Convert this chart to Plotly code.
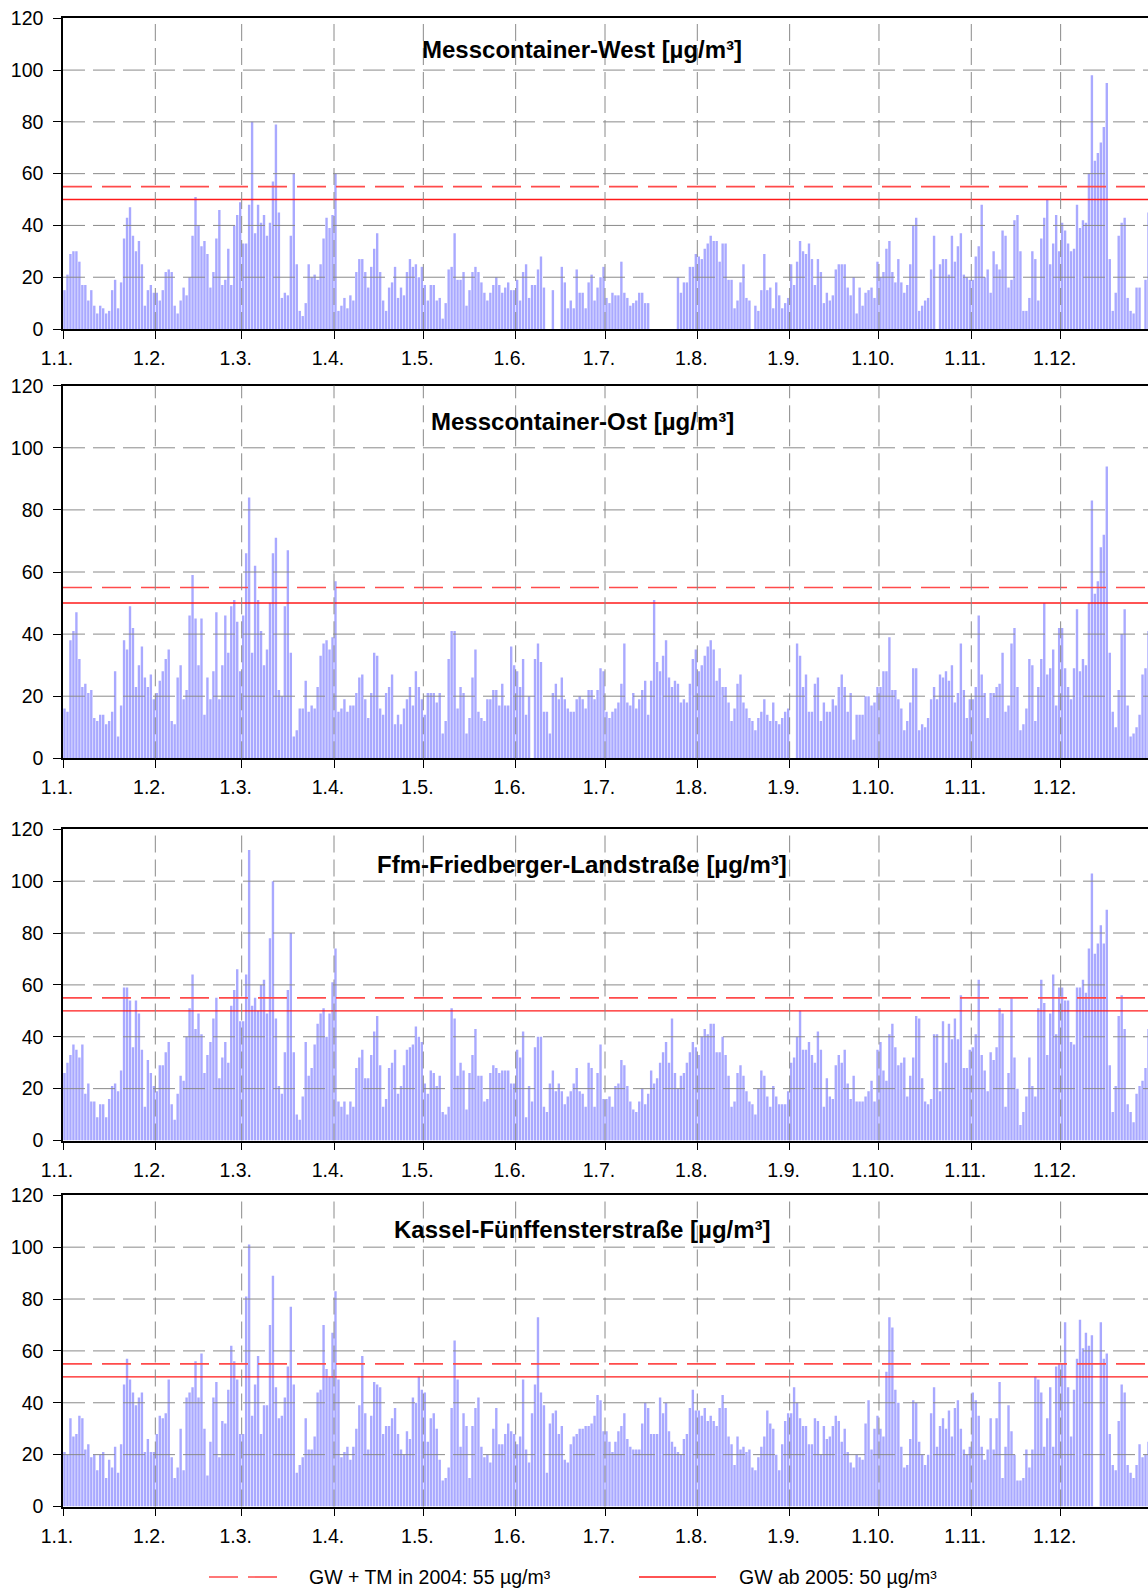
import pandas as pd
import plotly.graph_objects as go

N = None  # day without a valid daily mean

# Daily PM10 means 2004, one row per month (Jan .. Dec)
WEST = [
    [15, 21, 29, 30, 30, 26, 17, 17, 11, 15, 9, 6, 9, 8, 6, 7, 15, 19, 8, 18, 35, 43, 47, 36, 30, 34, 25, 9, 15, 17, 14],
    [14, 11, 15, 22, 23, 22, 9, 6, 11, 16, 13, 20, 36, 51, 40, 32, 34, 29, 16, 22, 35, 46, 17, 19, 31, 17, 40, 44, 49],
    [33, 33, 48, 80, 37, 48, 41, 44, 36, 41, 57, 79, 45, 12, 14, 13, 36, 60, 25, 7, 5, 10, 25, 20, 21, 19, 25, 35, 43, 39, 44],
    [60, 7, 9, 12, 8, 13, 11, 22, 27, 27, 22, 16, 24, 31, 37, 22, 11, 7, 16, 18, 24, 12, 16, 13, 22, 27, 24, 25, 20, 24],
    [17, 11, 17, 17, 11, 12, 4, 10, 23, 24, 37, 19, 19, 22, 9, 15, 22, 24, 22, 18, 14, 11, 14, 17, 20, 17, 14, 16, 18, 15, 15],
    [19, 11, 22, 25, 12, 17, 17, 23, 28, 16, N, N, 15, N, N, 24, 18, 8, 11, 8, 23, 14, 14, 8, 18, 21, 11, 16, 20, 24],
    [12, 10, 14, 13, 13, 26, 14, 12, 9, 10, 11, 14, 14, 10, 10, N, N, N, N, N, N, N, N, N, 20, 14, 18, 18, 24, 24, 29],
    [28, 27, 31, 33, 36, 34, 34, 26, 33, 33, 19, 19, 8, 11, 18, 25, 12, 11, N, 9, 7, 15, 29, 15, 16, 8, 18, 13, 8, 10, 12],
    [25, 17, 26, 34, 30, 29, 33, 27, 17, 27, 22, 10, 14, 11, 13, 23, 25, 25, 25, 16, 13, 20, 6, 16, 9, 14, 15, 16, 12, 26],
    [20, 22, 31, 34, 22, 18, 27, 18, 14, 17, 25, 40, 43, 7, 9, 11, 12, 23, 36, N, 25, 27, 27, 21, 36, 26, 32, 37, 21, 20, 19],
    [19, 28, 32, 48, 20, 23, 14, 30, 25, 23, 38, 36, 16, 19, 42, 44, 30, 7, 7, 12, 30, 27, 11, 35, 43, 50, 25, 33, 44, 30],
    [41, 38, 33, 30, 31, 48, 39, 42, 41, 60, 98, 65, 68, 72, 78, 95, 27, 7, 14, 36, 41, 43, 12, 7, 6, 16, 16, N, 19, 45, 45],
]

OST = [
    [16, 15, 38, 41, 47, 32, 23, 24, 21, 22, 13, 12, 14, 14, 11, 12, 15, 28, 7, 17, 38, 35, 49, 42, 23, 30, 36, 26, 23, 27, 19],
    [21, 25, 28, 32, 35, 12, 11, 26, 30, 19, 22, 46, 59, 45, 30, 45, 14, 26, 19, 28, 47, 19, 30, 46, 34, 49, 51, 44, 28],
    [46, 66, 84, 34, 62, 51, 41, 30, 35, 50, 66, 71, 22, 20, 49, 67, 34, 7, 9, 16, 16, 25, 15, 17, 16, 23, 33, 37, 38, 35, 39],
    [57, 15, 16, 19, 15, 17, 17, 21, 26, 27, 19, 13, 21, 34, 33, 16, 14, 21, 23, 27, 11, 14, 11, 16, 19, 23, 17, 28, 23, 19],
    [14, 21, 21, 21, 18, 21, 8, 12, 32, 41, 41, 16, 23, 21, 8, 13, 26, 35, 15, 13, 12, 19, 19, 22, 22, 17, 24, 17, 17, 36, 30],
    [28, 23, 32, 14, 20, N, 32, 37, 31, 15, 15, 8, 21, 24, 19, 26, 19, 16, 15, 15, 19, 20, 19, 16, 22, 22, 19, 22, 29, 28],
    [15, 13, 15, 16, 18, 24, 37, 18, 17, 21, 16, 19, 22, 25, 14, 25, 51, 31, 28, 33, 38, 26, 23, 25, 24, 18, 19, 18, 24, 32, 35],
    [28, 30, 33, 36, 38, 35, 25, 29, 23, 23, 18, 12, 16, 24, 27, 18, 16, 13, 12, 9, 13, 15, 19, 14, 12, 18, 12, 11, 13, 15, 16],
    [N, N, 37, 33, 23, 27, 15, 15, 24, 26, 12, 18, 15, 15, 19, 17, 23, 27, 23, 15, 21, 6, 14, 14, 14, 20, 20, 17, 18, 23],
    [23, 28, 28, 39, 22, 22, 19, 16, 9, 12, 18, 29, 29, 9, 11, 10, 13, 19, 23, 19, 27, 26, 28, 25, 30, 18, 21, 37, 22, 13, 19],
    [19, 23, 46, 27, 21, 13, 21, 21, 23, 24, 34, 15, 17, 37, 42, 23, 9, 11, 16, 32, 30, 12, 23, 32, 50, 27, 29, 35, 17, 42],
    [42, 29, 23, 19, 29, 48, 28, 32, 30, 50, 83, 53, 57, 68, 72, 94, 34, 15, 10, 22, 40, 48, 17, 7, 8, 10, 14, 27, 29, 41, 41],
]

FFM = [
    [26, 30, 33, 37, 35, 32, 37, 18, 22, 15, 15, 9, 14, 14, 9, 16, 21, 22, 19, 27, 59, 59, 54, 36, 54, 49, 35, 13, 31, 26, 21],
    [19, 29, 29, 34, 38, 14, 8, 18, 25, 23, 40, 51, 64, 43, 49, 41, 26, 33, 38, 47, 55, 24, 32, 38, 30, 52, 58, 66, 46],
    [46, 64, 112, 52, 55, 50, 60, 62, 49, 78, 100, 47, 21, 18, 34, 58, 80, 34, 10, 8, 17, 38, 25, 28, 37, 45, 49, 51, 40, 49, 61],
    [74, 15, 13, 15, 10, 15, 13, 28, 32, 35, 24, 24, 33, 42, 48, 29, 13, 16, 28, 30, 35, 18, 21, 29, 35, 36, 37, 44, 40, 38],
    [22, 18, 27, 26, 21, 25, 11, 10, 13, 51, 47, 25, 30, 27, 12, 26, 33, 43, 25, 25, 15, 16, 26, 29, 28, 26, 27, 27, 27, 22, 22],
    [35, 32, 42, 9, 21, 15, 36, 40, 40, 13, 11, 22, 27, 19, 22, 19, 14, 17, 19, 22, 28, 19, 18, 13, 30, 28, 13, 26, 37, 16],
    [16, 17, 13, 21, 22, 31, 29, 21, 15, 12, 11, 15, 20, 14, 18, 27, 22, 24, 30, 34, 38, 30, 47, 26, 20, 25, 26, 30, 34, 38, 36],
    [33, 40, 43, 41, 45, 45, 34, 34, 40, 33, 25, 13, 15, 26, 29, 25, 19, 15, 14, 10, 20, 27, 25, 17, 13, 21, 17, 14, 14, 14, 19],
    [30, 32, 40, 50, 35, 35, 38, 33, 30, 42, 35, 13, 24, 17, 16, 29, 33, 30, 35, 22, 16, 25, 15, 15, 15, 17, 19, 23, 15, 35],
    [38, 27, 23, 41, 45, 36, 29, 30, 32, 17, 25, 32, 48, 47, 24, 15, 14, 16, 41, 41, 19, 46, 30, 45, 39, 47, 39, 56, 28, 28, 35],
    [36, 41, 62, 33, 27, 19, 34, 31, 36, 51, 49, 13, 26, 55, 32, 20, 6, 11, 17, 32, 21, 17, 51, 62, 53, 33, 49, 64, 41, 59],
    [59, 54, 54, 38, 37, 59, 59, 62, 57, 74, 103, 72, 76, 83, 76, 89, 29, 11, 21, 48, 56, 43, 14, 11, 7, 18, 21, 23, 28, 43, 40],
]

KASSEL = [
    [21, 20, 34, 27, 28, 35, 34, 22, 24, 19, 20, 14, 20, 21, 11, 18, 15, 23, 13, 24, 47, 57, 49, 44, 39, 42, 44, 21, 26, 21, 21],
    [28, 35, 34, 36, 49, 19, 11, 15, 30, 14, 42, 44, 46, 56, 42, 59, 30, 12, 25, 42, 48, 19, 33, 32, 45, 62, 56, 49, 28],
    [28, 81, 101, 35, 47, 58, 28, 39, 39, 70, 89, 46, 34, 35, 42, 54, 77, 47, 13, 16, 19, 34, 22, 22, 27, 44, 45, 70, 53, 50, 67],
    [83, 49, 19, 21, 23, 18, 23, 30, 39, 58, 36, 22, 35, 48, 47, 46, 28, 31, 31, 34, 38, 28, 22, 20, 29, 26, 42, 40, 50, 45],
    [44, 25, 34, 36, 30, 18, 10, 11, 15, 38, 64, 49, 23, 36, 31, 11, 31, 38, 42, 23, 19, 20, 17, 30, 38, 24, 24, 28, 32, 29, 28],
    [24, 27, 49, 22, 17, 36, 47, 73, 44, 39, 13, 32, 36, 37, 28, 31, 18, 17, 24, 27, 28, 30, 30, 31, 31, 32, 35, 43, 41, 29],
    [29, 25, 21, 25, 29, 31, 36, 26, 23, 22, 22, 22, 32, 40, 38, 28, 28, 28, 42, 36, 40, 29, 25, 23, 21, 20, 26, 28, 38, 45, 37],
    [37, 35, 38, 33, 35, 33, 31, 38, 43, 38, 27, 24, 16, 27, 22, 23, 21, 22, 15, 14, 19, 23, 27, 37, 32, 30, 20, 14, 24, 33, 36],
    [36, 46, 40, 34, 31, 31, 24, 24, 34, 33, 20, 31, 26, 27, 31, 35, 33, 25, 30, 21, 17, 15, 20, 19, 18, 32, 41, 22, 30, 35],
    [30, 27, 52, 73, 69, 45, 40, 23, 15, 16, 26, 41, 40, 25, 20, 16, 20, 36, 46, 23, 31, 34, 30, 37, 27, 38, 41, 30, 22, 20, 23],
    [44, 41, 35, 23, 18, 22, 34, 22, 34, 48, 11, 23, 39, 29, 20, 10, 10, 11, 22, 15, 22, 50, 49, 44, 23, 34, 46, 23, 54, 55],
    [55, 71, 46, 27, 45, 57, 72, 61, 67, 62, 66, N, N, 71, 57, 59, 28, 16, 14, 33, 47, 44, 16, 13, 11, 16, 24, 19, 20, 25, 22],
]

STATIONS = [
    "Messcontainer-West [µg/m³]",
    "Messcontainer-Ost [µg/m³]",
    "Ffm-Friedberger-Landstraße [µg/m³]",
    "Kassel-Fünffensterstraße [µg/m³]",
]
SERIES = [WEST, OST, FFM, KASSEL]

MONTH_LABELS = ["1.1.", "1.2.", "1.3.", "1.4.", "1.5.", "1.6.",
                "1.7.", "1.8.", "1.9.", "1.10.", "1.11.", "1.12."]
LIMIT_TM = 55   # limit value + margin of tolerance 2004
LIMIT_GW = 50   # limit value from 2005
LEGEND_TM = "GW + TM in 2004: 55 µg/m³"
LEGEND_GW = "GW ab 2005: 50 µg/m³"

# ---------------------------------------------------------------- layout
W, H = 1148, 1590
LEFT = 63
FONT = "Liberation Sans, Arial, Helvetica, sans-serif"
BAR_COLOR = "#A9A9FF"
GRID_COLOR = "#8A8A8A"
TICK_SIZE = 19.5

days = pd.date_range("2004-01-01", "2004-12-31", freq="D")
month_starts = pd.date_range("2004-01-01", "2004-12-01", freq="MS")
x_start = days[0]
x_end = days[0] + pd.Timedelta(days=(W - LEFT) / 2.978)
year_end = days[-1] + pd.Timedelta(days=1)

# vertical pixel extents (top, bottom) of the four panels
panel_px = [(18.3, 329.0), (385.7, 758.3), (829.3, 1140.5), (1195.3, 1506.5)]
title_px = [50, 422, 864, 1229]


def py(px):
    return 1 - px / H


def px_x(px):
    return (px - LEFT) / (W - LEFT)


fig = go.Figure()
shapes = []
annotations = []
layout_axes = {}

for i, (name, months) in enumerate(zip(STATIONS, SERIES), start=1):
    values = [v for month in months for v in month]
    sfx = "" if i == 1 else str(i)
    xa, ya = f"x{sfx}", f"y{sfx}"

    fig.add_trace(go.Bar(
        x=days, y=values, xaxis=xa, yaxis=ya,
        xperiod=86400000, xperiodalignment="middle",
        marker=dict(color=BAR_COLOR, line=dict(width=0)),
        showlegend=False, hoverinfo="x+y",
    ))
    fig.add_trace(go.Scatter(
        x=[x_start, year_end], y=[LIMIT_TM, LIMIT_TM], xaxis=xa, yaxis=ya,
        mode="lines", line=dict(color="#FF4B4B", width=1.6, dash="29px,10px"),
        showlegend=False, hoverinfo="skip",
    ))
    fig.add_trace(go.Scatter(
        x=[x_start, year_end], y=[LIMIT_GW, LIMIT_GW], xaxis=xa, yaxis=ya,
        mode="lines", line=dict(color="#FF1A1A", width=1.4),
        showlegend=False, hoverinfo="skip",
    ))

    top, bottom = panel_px[i - 1]
    layout_axes[f"xaxis{sfx}"] = dict(
        type="date", domain=[0, 1], anchor=ya, range=[x_start, x_end],
        tickvals=list(month_starts), ticktext=MONTH_LABELS,
        ticks="outside", ticklen=8, tickwidth=1, tickcolor="black",
        showline=True, linecolor="black", linewidth=1.5, mirror=True,
        showgrid=False, zeroline=False, automargin=False,
        tickfont=dict(family=FONT, size=TICK_SIZE, color="black"),
        ticklabelstandoff=3, ticklabelshift=-6,
    )
    layout_axes[f"yaxis{sfx}"] = dict(
        domain=[py(bottom), py(top)], anchor=xa, range=[0, 120],
        tick0=0, dtick=20, ticks="outside", ticklen=8, tickwidth=1,
        tickcolor="black", showline=True, linecolor="black", linewidth=1.5,
        showgrid=False, zeroline=False, automargin=False,
        tickfont=dict(family=FONT, size=TICK_SIZE, color="black"),
        ticklabelstandoff=6,
    )

    # dashed grid drawn over the bars
    for v in range(20, 120, 20):
        shapes.append(dict(
            type="line", xref=f"{xa} domain", x0=0, x1=1, yref=ya, y0=v, y1=v,
            line=dict(color=GRID_COLOR, width=1, dash="22px,8px"), layer="above",
        ))
    for ms in month_starts[1:]:
        shapes.append(dict(
            type="line", xref=xa, x0=ms, x1=ms, yref=f"{ya} domain", y0=0, y1=1,
            line=dict(color=GRID_COLOR, width=1, dash="17px,7px"), layer="above",
        ))

    annotations.append(dict(
        text=f"<b>{name}</b>", xref="paper", yref="paper",
        x=px_x(582), y=py(title_px[i - 1]), xanchor="center", yanchor="middle",
        showarrow=False, font=dict(family=FONT, size=24, color="black"),
    ))

# legend row at the bottom
leg_y = py(1577)
shapes.append(dict(type="line", xref="paper", yref="paper",
                   x0=px_x(209), x1=px_x(278), y0=leg_y, y1=leg_y,
                   line=dict(color="#FF4B4B", width=1.6, dash="29px,10px")))
shapes.append(dict(type="line", xref="paper", yref="paper",
                   x0=px_x(639), x1=px_x(716), y0=leg_y, y1=leg_y,
                   line=dict(color="#FF1A1A", width=1.4)))
annotations.append(dict(text=LEGEND_TM, xref="paper", yref="paper",
                        x=px_x(307), y=leg_y, xanchor="left", yanchor="middle",
                        showarrow=False, font=dict(family=FONT, size=TICK_SIZE, color="black")))
annotations.append(dict(text=LEGEND_GW, xref="paper", yref="paper",
                        x=px_x(737), y=leg_y, xanchor="left", yanchor="middle",
                        showarrow=False, font=dict(family=FONT, size=TICK_SIZE, color="black")))

fig.update_layout(
    width=W, height=H,
    margin=dict(l=LEFT, r=0, t=0, b=0, pad=0, autoexpand=False),
    paper_bgcolor="white", plot_bgcolor="white",
    bargap=0.2, showlegend=False,
    font=dict(family=FONT, color="black"),
    shapes=shapes, annotations=annotations,
    **layout_axes,
)

fig.write_html("out.html")
